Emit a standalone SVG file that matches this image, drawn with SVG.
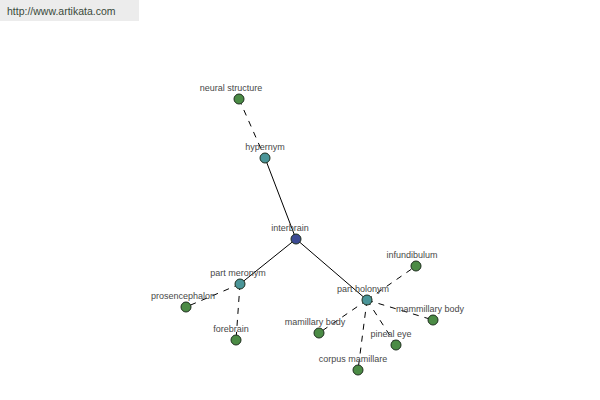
<svg xmlns="http://www.w3.org/2000/svg" width="600" height="400" viewBox="0 0 600 400">
<style>
.e{stroke:#000;stroke-width:1;fill:none}
.d{stroke-dasharray:6,6}
.n{stroke:#1e2e1e;stroke-width:1}
.g{fill:#4b8b45}
.t{fill:#4a9598}
.b{fill:#3c4a94}
text{font-family:"Liberation Sans",Arial,sans-serif;font-size:9px;fill:#484848;text-anchor:middle}
</style>
<rect width="600" height="400" fill="#fff"/>
<rect x="0" y="0" width="139" height="21" fill="#ececec"/>
<text x="7" y="15" style="font-size:10.5px;text-anchor:start;fill:#3a4a3a">http://www.artikata.com</text>
<g id="connectors">
<line class="e d" x1="239" y1="99" x2="265" y2="158"/>
<line class="e" x1="265" y1="158" x2="296" y2="239"/>
<line class="e" x1="296" y1="239" x2="240" y2="284"/>
<line class="e" x1="296" y1="239" x2="367" y2="300"/>
<line class="e d" x1="240" y1="284" x2="186" y2="307"/>
<line class="e d" x1="240" y1="284" x2="236" y2="340"/>
<line class="e d" x1="367" y1="300" x2="416" y2="266"/>
<line class="e d" x1="367" y1="300" x2="433" y2="320"/>
<line class="e d" x1="367" y1="300" x2="319" y2="333"/>
<line class="e d" x1="367" y1="300" x2="396" y2="345"/>
<line class="e d" x1="367" y1="300" x2="358" y2="370"/>
</g>
<g id="neural-structure"><circle class="n g" cx="239" cy="99" r="5"/><text x="231" y="91">neural structure</text></g>
<g id="hypernym"><circle class="n t" cx="265" cy="158" r="5"/><text x="265" y="150">hypernym</text></g>
<g id="interbrain"><circle class="n b" cx="296" cy="239" r="5"/><text x="290" y="231">interbrain</text></g>
<g id="part-meronym"><circle class="n t" cx="240" cy="284" r="5"/><text x="238" y="276">part meronym</text></g>
<g id="prosencephalon"><circle class="n g" cx="186" cy="307" r="5"/><text x="183" y="299">prosencephalon</text></g>
<g id="forebrain"><circle class="n g" cx="236" cy="340" r="5"/><text x="231" y="332">forebrain</text></g>
<g id="part-holonym"><circle class="n t" cx="367" cy="300" r="5"/><text x="363" y="292">part holonym</text></g>
<g id="infundibulum"><circle class="n g" cx="416" cy="266" r="5"/><text x="412" y="258">infundibulum</text></g>
<g id="mammillary-body"><circle class="n g" cx="433" cy="320" r="5"/><text x="430" y="312">mammillary body</text></g>
<g id="mamillary-body"><circle class="n g" cx="319" cy="333" r="5"/><text x="315" y="325">mamillary body</text></g>
<g id="pineal-eye"><circle class="n g" cx="396" cy="345" r="5"/><text x="391" y="337">pineal eye</text></g>
<g id="corpus-mamillare"><circle class="n g" cx="358" cy="370" r="5"/><text x="353" y="362">corpus mamillare</text></g>
</svg>
